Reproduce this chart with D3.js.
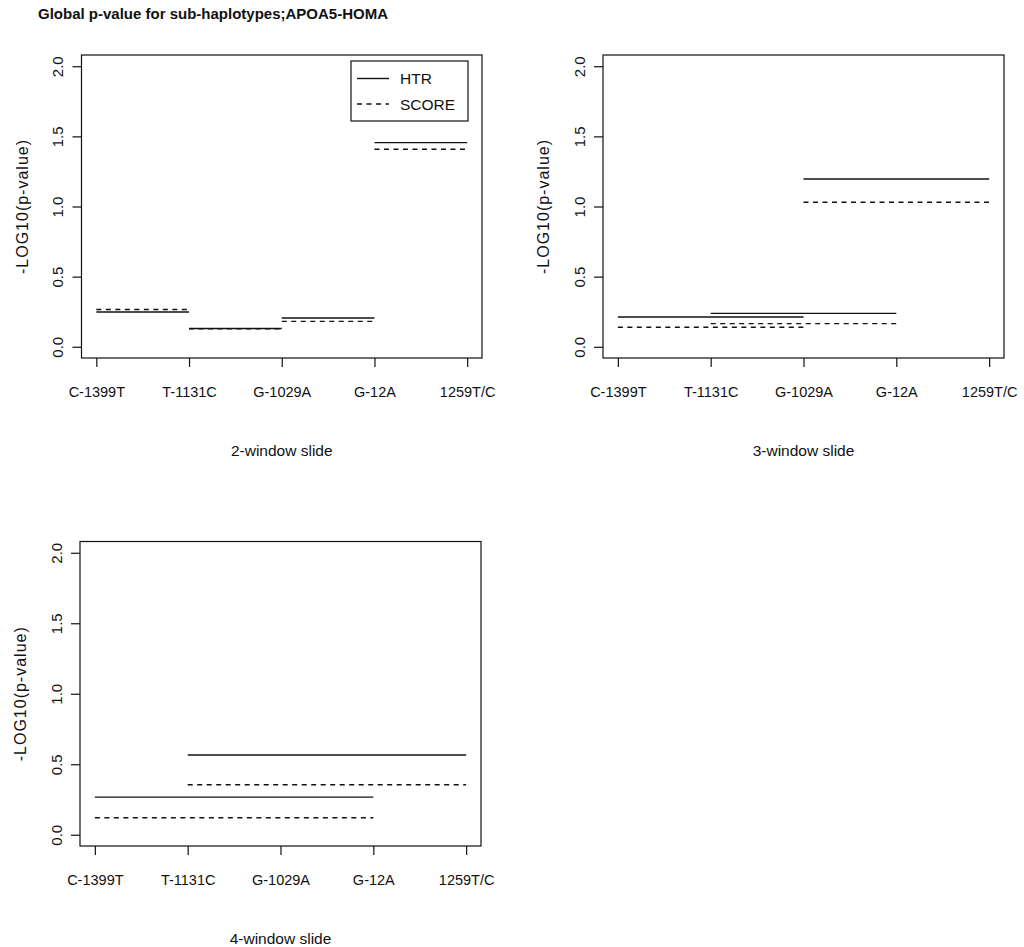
<!DOCTYPE html>
<html>
<head>
<meta charset="utf-8">
<script src="https://cdn.jsdelivr.net/npm/d3@7"></script>
<style>
  body { margin: 0; background: #fff; }
  text { font-family: "Liberation Sans", Arial, sans-serif; fill: #111; }
</style>
</head>
<body>
<script>
const W = 1024, H = 947;

// marker names along the x axis
const snps = ["C-1399T", "T-1131C", "G-1029A", "G-12A", "1259T/C"];
const yTicks = [0, 0.5, 1, 1.5, 2];

// -log10(p) for each sliding window, one value per window start
const htr2 = [0.248, 0.130, 0.205, 1.455];
const score2 = [0.266, 0.128, 0.181, 1.408];
const htr3 = [0.212, 0.238, 1.196];
const score3 = [0.139, 0.165, 1.030];
const htr4 = [0.267, 0.566];
const score4 = [0.120, 0.354];

const panels = [
  {win: 2, htr: htr2, score: score2, left: 81.5, top: 55, right: 482, bottom: 358, legend: true},
  {win: 3, htr: htr3, score: score3, left: 603, top: 55, right: 1004, bottom: 358, legend: false},
  {win: 4, htr: htr4, score: score4, left: 80, top: 541.5, right: 481, bottom: 846, legend: false}
];

const svg = d3.select("body").append("svg")
  .attr("width", W)
  .attr("height", H);

svg.append("text")
  .attr("x", 38)
  .attr("y", 19)
  .attr("font-size", 15)
  .attr("font-weight", "bold")
  .text("Global p-value for sub-haplotypes;APOA5-HOMA");

const lineCol = "#111";
const dash = "5,4.5";
const fs = 14.5;

panels.forEach(p => {
  const w = p.right - p.left, h = p.bottom - p.top;
  const g = svg.append("g").attr("transform", `translate(${p.left},${p.top})`);

  // R style 4% padding round the data range
  const x = d3.scaleLinear().domain([-0.16, 4.16]).range([0, w]);
  const y = d3.scaleLinear().domain([-0.08, 2.08]).range([h, 0]);

  const xAxis = g.append("g")
    .attr("transform", `translate(0,${h})`)
    .call(d3.axisBottom(x).tickValues(d3.range(snps.length))
      .tickFormat(i => snps[i]).tickSize(9).tickSizeOuter(0));
  xAxis.select(".domain").remove();
  xAxis.selectAll(".tick line").attr("stroke", lineCol).attr("stroke-width", 1.2);
  xAxis.selectAll(".tick text")
    .attr("y", 38.5).attr("dy", 0)
    .attr("font-size", fs)
    .attr("font-family", "Liberation Sans, Arial, sans-serif")
    .attr("fill", "#111");

  const yAxis = g.append("g")
    .call(d3.axisLeft(y).tickValues(yTicks).tickFormat(d3.format(".1f"))
      .tickSize(9).tickSizeOuter(0));
  yAxis.select(".domain").remove();
  yAxis.selectAll(".tick line").attr("stroke", lineCol).attr("stroke-width", 1.2);
  yAxis.selectAll(".tick text")
    .attr("x", 0).attr("dy", 0)
    .attr("text-anchor", "middle")
    .attr("transform", "translate(-18.5,0) rotate(-90)")
    .attr("font-size", fs + 0.5)
    .attr("font-family", "Liberation Sans, Arial, sans-serif")
    .attr("fill", "#111");

  g.append("rect")
    .attr("width", w).attr("height", h)
    .attr("fill", "none")
    .attr("stroke", lineCol)
    .attr("stroke-width", 1.2);

  g.append("text")
    .attr("transform", `translate(-54,${h / 2}) rotate(-90)`)
    .attr("text-anchor", "middle")
    .attr("font-size", 16)
    .attr("letter-spacing", 1)
    .text("-LOG10(p-value)");

  g.append("text")
    .attr("x", w / 2)
    .attr("y", h + 98)
    .attr("text-anchor", "middle")
    .attr("font-size", 15.5)
    .text(`${p.win}-window slide`);

  // each window spans from its first to its last marker
  const segs = (vals, kind) => vals.map((v, i) => ({x0: i, x1: i + p.win - 1, v: v, kind: kind}));
  const all = segs(p.score, "score").concat(segs(p.htr, "htr"));

  g.selectAll("line.seg")
    .data(all)
    .join("line")
    .attr("class", "seg")
    .attr("x1", d => x(d.x0))
    .attr("x2", d => x(d.x1))
    .attr("y1", d => y(d.v))
    .attr("y2", d => y(d.v))
    .attr("stroke", lineCol)
    .attr("stroke-width", 1.4)
    .attr("stroke-dasharray", d => d.kind === "score" ? dash : null);

  if (p.legend) {
    const lg = g.append("g").attr("transform", `translate(${351 - p.left},${61 - p.top})`);
    lg.append("rect")
      .attr("width", 117).attr("height", 60)
      .attr("fill", "#fff")
      .attr("stroke", lineCol)
      .attr("stroke-width", 1.2);
    const items = [{name: "HTR", dash: null, y: 17.5}, {name: "SCORE", dash: dash, y: 43}];
    items.forEach(it => {
      lg.append("line")
        .attr("x1", 6).attr("x2", 38)
        .attr("y1", it.y).attr("y2", it.y)
        .attr("stroke", lineCol)
        .attr("stroke-width", 1.4)
        .attr("stroke-dasharray", it.dash);
      lg.append("text")
        .attr("x", 49)
        .attr("y", it.y + 5.5)
        .attr("font-size", 15.5)
        .text(it.name);
    });
  }
});
</script>
</body>
</html>
